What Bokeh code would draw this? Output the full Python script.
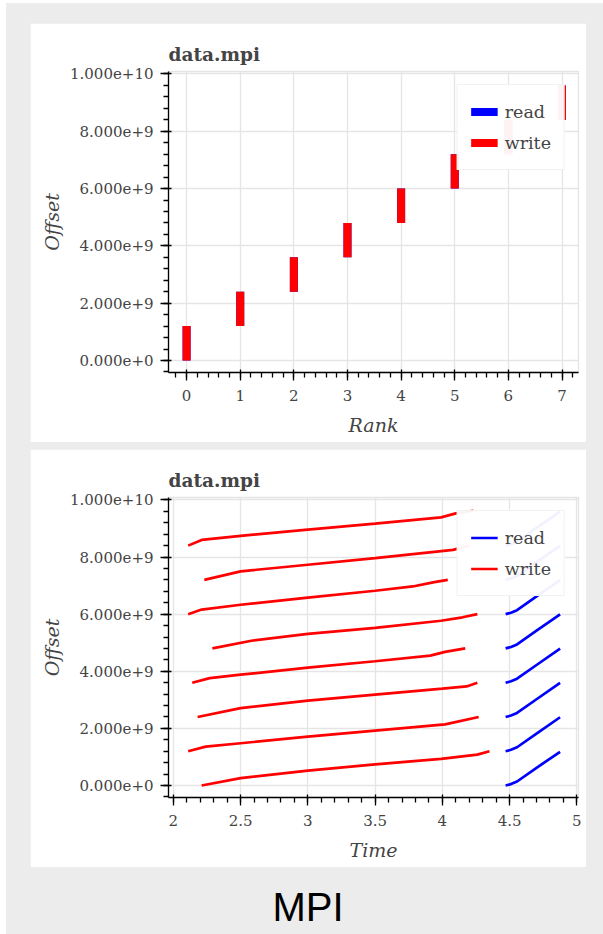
from bokeh.plotting import figure
from bokeh.layouts import column
from bokeh.models import Div, Range1d, BasicTickFormatter
from bokeh.embed import file_html
from bokeh.resources import INLINE

# ---------------- data ----------------
ranks = [0, 1, 2, 3, 4, 5, 6, 7]
write_lo = [0.0, 1.2e9, 2.4e9, 3.6e9, 4.8e9, 6.0e9, 7.2e9, 8.4e9]
write_hi = [1.2e9, 2.4e9, 3.6e9, 4.8e9, 6.0e9, 7.2e9, 8.4e9, 9.6e9]
read_lo = [0.0, 1.2e9, 2.4e9, 3.6e9, 4.8e9, 6.0e9, 7.2e9, 8.4e9]
read_hi = [1.2e9, 2.4e9, 3.6e9, 4.8e9, 6.0e9, 7.2e9, 8.4e9, 9.6e9]

write_time = [
    [2.21, 2.50, 3.00, 3.50, 3.99, 4.26, 4.35],
    [2.11, 2.24, 2.50, 3.00, 3.50, 4.02, 4.27],
    [2.18, 2.50, 3.00, 3.50, 4.00, 4.18, 4.26],
    [2.14, 2.27, 2.50, 3.00, 3.50, 3.91, 4.02, 4.17],
    [2.29, 2.58, 3.00, 3.50, 3.99, 4.15, 4.26],
    [2.11, 2.21, 2.50, 3.00, 3.50, 3.78, 3.94, 4.04],
    [2.23, 2.50, 3.00, 3.50, 4.08, 4.20],
    [2.11, 2.21, 2.50, 3.00, 3.50, 3.99, 4.10, 4.23],
]
write_offset = [
    [0.00e9, 0.26e9, 0.52e9, 0.74e9, 0.93e9, 1.08e9, 1.20e9],
    [1.20e9, 1.36e9, 1.48e9, 1.71e9, 1.92e9, 2.14e9, 2.40e9],
    [2.40e9, 2.71e9, 2.97e9, 3.18e9, 3.39e9, 3.47e9, 3.60e9],
    [3.60e9, 3.76e9, 3.88e9, 4.13e9, 4.35e9, 4.55e9, 4.68e9, 4.80e9],
    [4.80e9, 5.07e9, 5.31e9, 5.52e9, 5.77e9, 5.89e9, 6.00e9],
    [6.00e9, 6.16e9, 6.33e9, 6.58e9, 6.82e9, 6.97e9, 7.12e9, 7.20e9],
    [7.20e9, 7.50e9, 7.73e9, 7.96e9, 8.25e9, 8.40e9],
    [8.40e9, 8.60e9, 8.74e9, 8.96e9, 9.17e9, 9.39e9, 9.53e9, 9.62e9],
]
read_time = [
    [4.47, 4.51, 4.555, 4.70, 4.875],
    [4.47, 4.51, 4.555, 4.70, 4.875],
    [4.47, 4.51, 4.555, 4.70, 4.875],
    [4.47, 4.51, 4.555, 4.70, 4.875],
    [4.47, 4.51, 4.555, 4.70, 4.875],
    [4.47, 4.51, 4.555, 4.70, 4.875],
    [4.47, 4.51, 4.555, 4.70, 4.875],
    [4.47, 4.51, 4.555, 4.70, 4.875],
]
read_offset = [
    [0.00e9, 0.05e9, 0.14e9, 0.62e9, 1.18e9],
    [1.20e9, 1.25e9, 1.34e9, 1.82e9, 2.39e9],
    [2.40e9, 2.45e9, 2.54e9, 3.02e9, 3.59e9],
    [3.60e9, 3.65e9, 3.74e9, 4.22e9, 4.79e9],
    [4.80e9, 4.85e9, 4.94e9, 5.42e9, 5.99e9],
    [6.00e9, 6.05e9, 6.14e9, 6.62e9, 7.19e9],
    [7.20e9, 7.25e9, 7.34e9, 7.82e9, 8.39e9],
    [8.40e9, 8.45e9, 8.54e9, 9.02e9, 9.59e9],
]

title_text = "data.mpi"
footer_text = "MPI"

SERIF = "DejaVu Serif"
TXT = "#444444"


def style(p):
    p.title.text_font = SERIF
    p.title.text_font_size = "18.5px"
    p.title.text_font_style = "bold"
    p.title.text_color = TXT
    p.title.standoff = 13
    for ax in (p.xaxis[0], p.yaxis[0]):
        ax.axis_label_text_font = SERIF
        ax.axis_label_text_font_size = "19px"
        ax.axis_label_text_font_style = "italic"
        ax.axis_label_text_color = TXT
        ax.major_label_text_font = SERIF
        ax.major_label_text_font_size = "15px"
        ax.major_label_text_color = TXT
        ax.major_tick_out = 8
        ax.major_tick_in = 3
        ax.minor_tick_out = 5
        ax.minor_tick_in = 0
        ax.axis_line_width = 1.3
        ax.major_tick_line_width = 1.3
        ax.minor_tick_line_width = 1.3
    p.xaxis[0].major_label_standoff = 9
    p.xaxis[0].axis_label_standoff = 10
    p.yaxis[0].major_label_standoff = 7
    p.yaxis[0].axis_label_standoff = 4
    p.yaxis[0].formatter = BasicTickFormatter(precision=3)
    p.xgrid.grid_line_width = 1.3
    p.ygrid.grid_line_width = 1.3
    p.outline_line_color = "#e5e5e5"
    p.outline_line_width = 1.3
    lg = p.legend[0]
    lg.location = "top_right"
    lg.label_text_font = SERIF
    lg.label_text_font_size = "17.5px"
    lg.label_text_color = TXT
    lg.glyph_width = 27
    lg.glyph_height = 27
    lg.label_height = 27
    lg.padding = 13
    lg.spacing = 4
    lg.label_standoff = 7
    lg.margin = 13
    lg.border_line_color = "#e5e5e5"
    lg.border_line_width = 1.3
    lg.background_fill_alpha = 0.95


common = dict(width=556, output_backend="svg", toolbar_location=None,
              min_border_left=138, min_border_right=8, min_border_top=48,
              min_border_bottom=70, title=title_text, y_axis_label="Offset",
              y_range=Range1d(-0.42e9, 10.085e9))

p1 = figure(height=419, x_range=Range1d(-0.3375, 7.3075), x_axis_label="Rank", **common)
p1.segment(x0=ranks, y0=read_lo, x1=ranks, y1=read_hi, line_color="blue",
           line_width=8, legend_label="read")
p1.segment(x0=ranks, y0=write_lo, x1=ranks, y1=write_hi, line_color="red",
           line_width=8, legend_label="write")
style(p1)

common2 = dict(common)
common2["y_range"] = Range1d(-0.42e9, 10.085e9)
p2 = figure(height=418, x_range=Range1d(1.9636, 5.012), x_axis_label="Time", **common2)
p2.multi_line(xs=read_time, ys=read_offset, line_color="blue", line_width=2.7,
              legend_label="read")
p2.multi_line(xs=write_time, ys=write_offset, line_color="red", line_width=2.7,
              legend_label="write")
style(p2)

p1.margin = (20, 17, 0, 24)
p2.margin = (7, 17, 0, 24)

footer = Div(text=footer_text, width=556, height=49, margin=(18, 17, 0, 24),
             styles={"font-size": "40px", "line-height": "44px",
                     "font-family": "'Liberation Sans', Arial, sans-serif",
                     "text-align": "center", "color": "black"})

layout = column(p1, p2, footer, spacing=0, margin=(3, 0, 0, 6),
                styles={"background-color": "#ececec"})

open("out.html", "w").write(file_html(layout, INLINE))
